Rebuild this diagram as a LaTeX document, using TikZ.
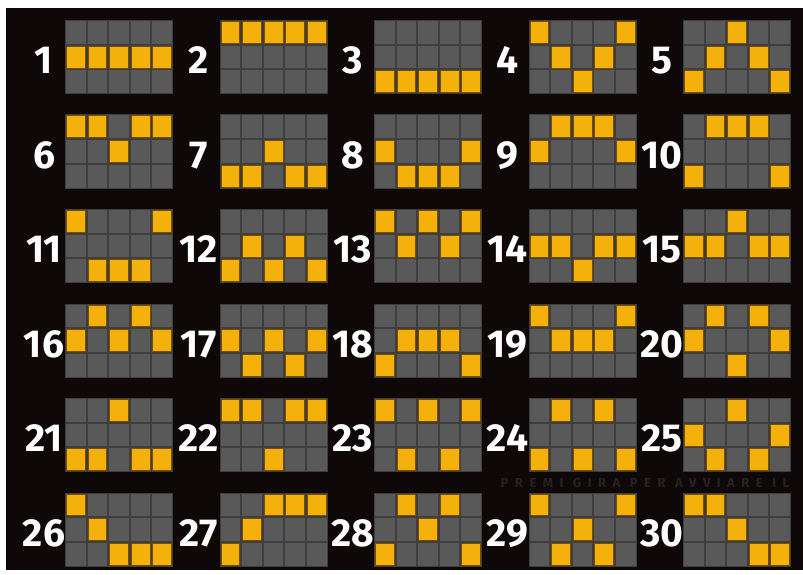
\documentclass[tikz,border=0pt]{standalone}
\usepackage{fontspec}
\setmainfont{Fira Sans}
\newfontfamily\hintfont[LetterSpace=50]{Fira Sans}
\definecolor{bgdark}{HTML}{0F0808}
\definecolor{gridline}{HTML}{3E3E3E}
\definecolor{cellgray}{HTML}{595959}
\definecolor{cellyellow}{HTML}{F4B10B}
\definecolor{celledge}{HTML}{7A4E00}
\definecolor{hintgray}{HTML}{272121}
\tikzset{
  gridbox/.style={fill=gridline},
  graycell/.style={fill=cellgray},
  yellowcell/.style={fill=cellyellow, draw=celledge, line width=0.8pt},
  num/.style={text=white, font=\bfseries\fontsize{39}{39}\selectfont, anchor=base, inner sep=0pt},
  hint/.style={text=hintgray, font=\hintfont\bfseries\fontsize{13}{13}\selectfont, inner sep=0pt}
}
\begin{document}
\begin{tikzpicture}[x=1pt,y=-1pt]
\useasboundingbox (0,0) rectangle (803,575);
\fill[white] (0,0) rectangle (803,575);
\fill[bgdark] (6,8) rectangle (803,570);
\node[hint] (hinttext) at (645,482.5) {PREMI GIRA PER AVVIARE IL};
\foreach \n/\a/\b/\c/\d/\e [count=\k from 0] in {
  1/1/1/1/1/1, 2/0/0/0/0/0, 3/2/2/2/2/2, 4/0/1/2/1/0, 5/2/1/0/1/2,
  6/0/0/1/0/0, 7/2/2/1/2/2, 8/1/2/2/2/1, 9/1/0/0/0/1, 10/2/0/0/0/2,
  11/0/2/2/2/0, 12/2/1/2/1/2, 13/0/1/0/1/0, 14/1/1/2/1/1, 15/1/1/0/1/1,
  16/1/0/1/0/1, 17/1/2/1/2/1, 18/2/1/1/1/2, 19/0/1/1/1/0, 20/1/0/2/0/1,
  21/2/2/0/2/2, 22/0/0/2/0/0, 23/0/2/0/2/0, 24/2/0/2/0/2, 25/1/2/0/2/1,
  26/0/1/2/2/2, 27/2/1/0/0/0, 28/2/0/1/0/2, 29/0/2/1/2/0, 30/0/0/1/2/2}
{
  \pgfmathtruncatemacro\col{mod(\k,5)}
  \pgfmathtruncatemacro\row{div(\k,5)}
  \pgfmathsetmacro\gx{65+154.5*\col}
  \pgfmathsetmacro\gy{20+94.5*\row}
  \fill[gridbox] (\gx,\gy) rectangle ++(108,74);
  \foreach \j in {0,...,4} {
    \foreach \r in {0,1,2} {
      \fill[graycell] (\gx+\j*21.6+1,\gy+\r*24.667+1) rectangle ++(19.6,22.667);
    }
  }
  \foreach \v [count=\j from 0] in {\a,\b,\c,\d,\e} {
    \filldraw[yellowcell] (\gx+\j*21.6+1.4,\gy+\v*24.667+1.4) rectangle ++(18.8,21.867);
  }
  \node[num] (n\n) at (\gx-21,\gy+53.5) {\n};
}
\end{tikzpicture}
\end{document}
